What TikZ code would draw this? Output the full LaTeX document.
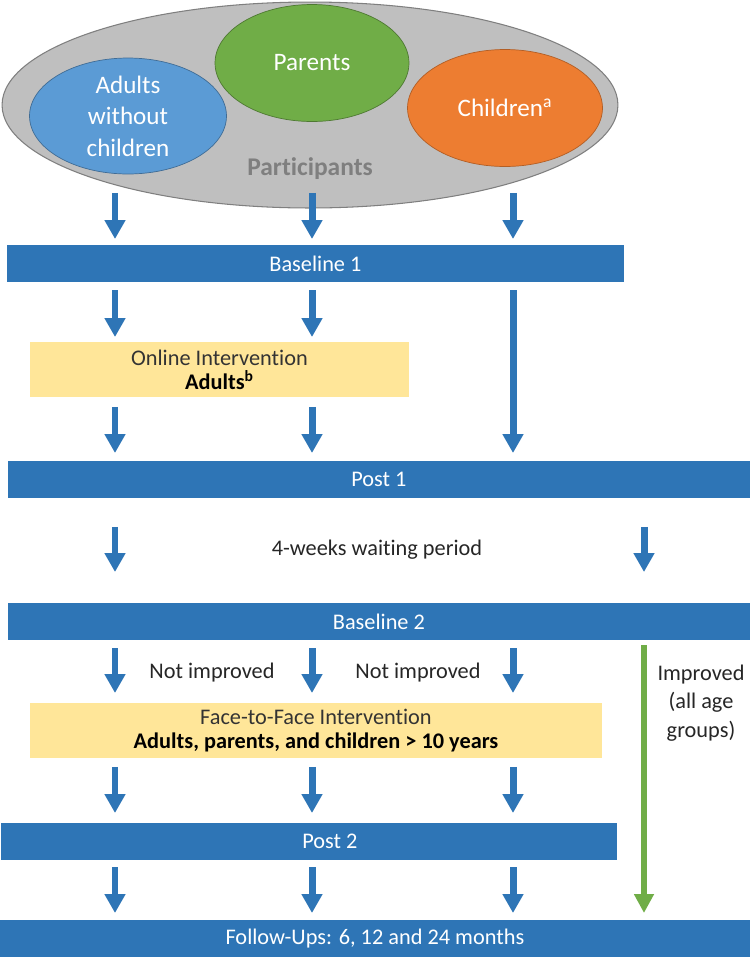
\documentclass[tikz,border=0pt]{standalone}
\usepackage{fontspec}
\setmainfont{Carlito}[Ligatures=NoCommon]
\usetikzlibrary{arrows.meta,shapes.geometric}

\definecolor{barblue}{RGB}{46,117,182}
\definecolor{boxyellow}{RGB}{255,230,153}
\definecolor{adultblue}{RGB}{91,155,213}
\definecolor{parentgreen}{RGB}{112,173,71}
\definecolor{childorange}{RGB}{237,125,49}
\definecolor{groupgrey}{RGB}{191,191,191}
\definecolor{textgrey}{RGB}{127,127,127}

\tikzset{
   bar/.style={fill=barblue, text=white, minimum height=0.74cm, inner sep=0pt,
      outer sep=0pt, anchor=north west, font=\fontsize{12.7}{14}\selectfont},
   phasebox/.style={fill=boxyellow, text=black!80, minimum height=1.1cm, inner sep=0pt,
      outer sep=0pt, anchor=north west, align=center, font=\fontsize{12.7}{13.8}\selectfont},
   group/.style={ellipse, text=white, inner sep=0pt, outer sep=0pt, align=center,
      font=\fontsize{14.3}{17.9}\selectfont},
   note/.style={text=black!85, align=center, font=\fontsize{12.7}{16.2}\selectfont},
   flow/.style={draw=barblue, line width=0.14cm, -{Triangle[width=0.4cm,length=0.38cm]}},
   okflow/.style={draw=parentgreen, line width=0.13cm, -{Triangle[width=0.38cm,length=0.38cm]}}
}

\begin{document}
\begin{tikzpicture}[x=0.02cm, y=-0.02cm]
   \useasboundingbox (0,0) rectangle (750,958);
   % participants
   \node[group, fill=groupgrey, draw=textgrey, line width=0.6pt,
      minimum width=12.32cm, minimum height=4.12cm] (grp) at (310,105) {};
   \node[group, fill=adultblue, draw=adultblue!70!black, minimum width=3.94cm,
      minimum height=2.32cm] (adults) at (128,116) {Adults\\without\\children};
   \node[group, fill=parentgreen, draw=parentgreen!70!black, minimum width=3.88cm,
      minimum height=2.34cm] (parents) at (312,63) {Parents};
   \node[group, fill=childorange, draw=childorange!75!black, minimum width=3.9cm,
      minimum height=2.34cm] (children) at (505,108) {Children\textsuperscript{a}};
   \node[text=textgrey, font=\fontsize{14.5}{16}\selectfont\bfseries] (partlbl) at (310,169) {Participants};

   % phases
   \node[bar, minimum width=12.34cm] (base1) at (7,245) {Baseline 1};
   \node[phasebox, minimum width=7.58cm] (online) at (30,342)
      {Online Intervention\\\textcolor{black}{\textbf{Adults\textsuperscript{b}}}};
   \node[bar, minimum width=14.84cm] (post1) at (8,461) {Post 1};
   \node[note] (wait) at (377,550) {4-weeks waiting period};
   \node[bar, minimum width=14.84cm] (base2) at (8,603) {Baseline 2};
   \node[note] (notimpa) at (212,673) {Not improved};
   \node[note] (notimpb) at (418,673) {Not improved};
   \node[note] (improved) at (701,703) {Improved\\(all age\\groups)};
   \node[phasebox, minimum width=11.44cm] (f2f) at (30,703)
      {Face-to-Face Intervention\\\textcolor{black}{\textbf{Adults, parents, and children > 10 years}}};
   \node[bar, minimum width=12.32cm] (post2) at (1,823) {\hspace{0.84cm}Post 2};
   \node[bar, minimum width=15cm] (follow) at (0,920) {Follow-Ups: 6, 12 and 24 months};

   % arrow columns
   \coordinate (c1) at (115,0);
   \coordinate (c2) at (312,0);
   \coordinate (c3) at (513,0);
   \coordinate (c4) at (644,0);

   \foreach \c in {c1,c2,c3}
      \draw[flow] ([yshift=0.3cm]\c |- grp.south) -- ([yshift=0.12cm]\c |- base1.north);
   \foreach \c in {c1,c2}{
      \draw[flow] ([yshift=-0.16cm]\c |- base1.south) -- ([yshift=0.1cm]\c |- online.north);
      \draw[flow] ([yshift=-0.2cm]\c |- online.south) -- ([yshift=0.16cm]\c |- post1.north);
   }
   \draw[flow] ([yshift=-0.16cm]c3 |- base1.south) -- ([yshift=0.16cm]c3 |- post1.north);
   \foreach \c in {c1,c4}
      \draw[flow] ([yshift=-0.58cm]\c |- post1.south) -- ([yshift=0.62cm]\c |- base2.north);
   \foreach \c in {c1,c2,c3}{
      \draw[flow] ([yshift=-0.16cm]\c |- base2.south) -- ([yshift=0.2cm]\c |- f2f.north);
      \draw[flow] ([yshift=-0.18cm]\c |- f2f.south) -- ([yshift=0.2cm]\c |- post2.north);
      \draw[flow] ([yshift=-0.14cm]\c |- post2.south) -- ([yshift=0.14cm]\c |- follow.north);
   }
   \draw[okflow] ([yshift=-0.1cm]c4 |- base2.south) -- ([yshift=0.14cm]c4 |- follow.north);
\end{tikzpicture}
\end{document}
